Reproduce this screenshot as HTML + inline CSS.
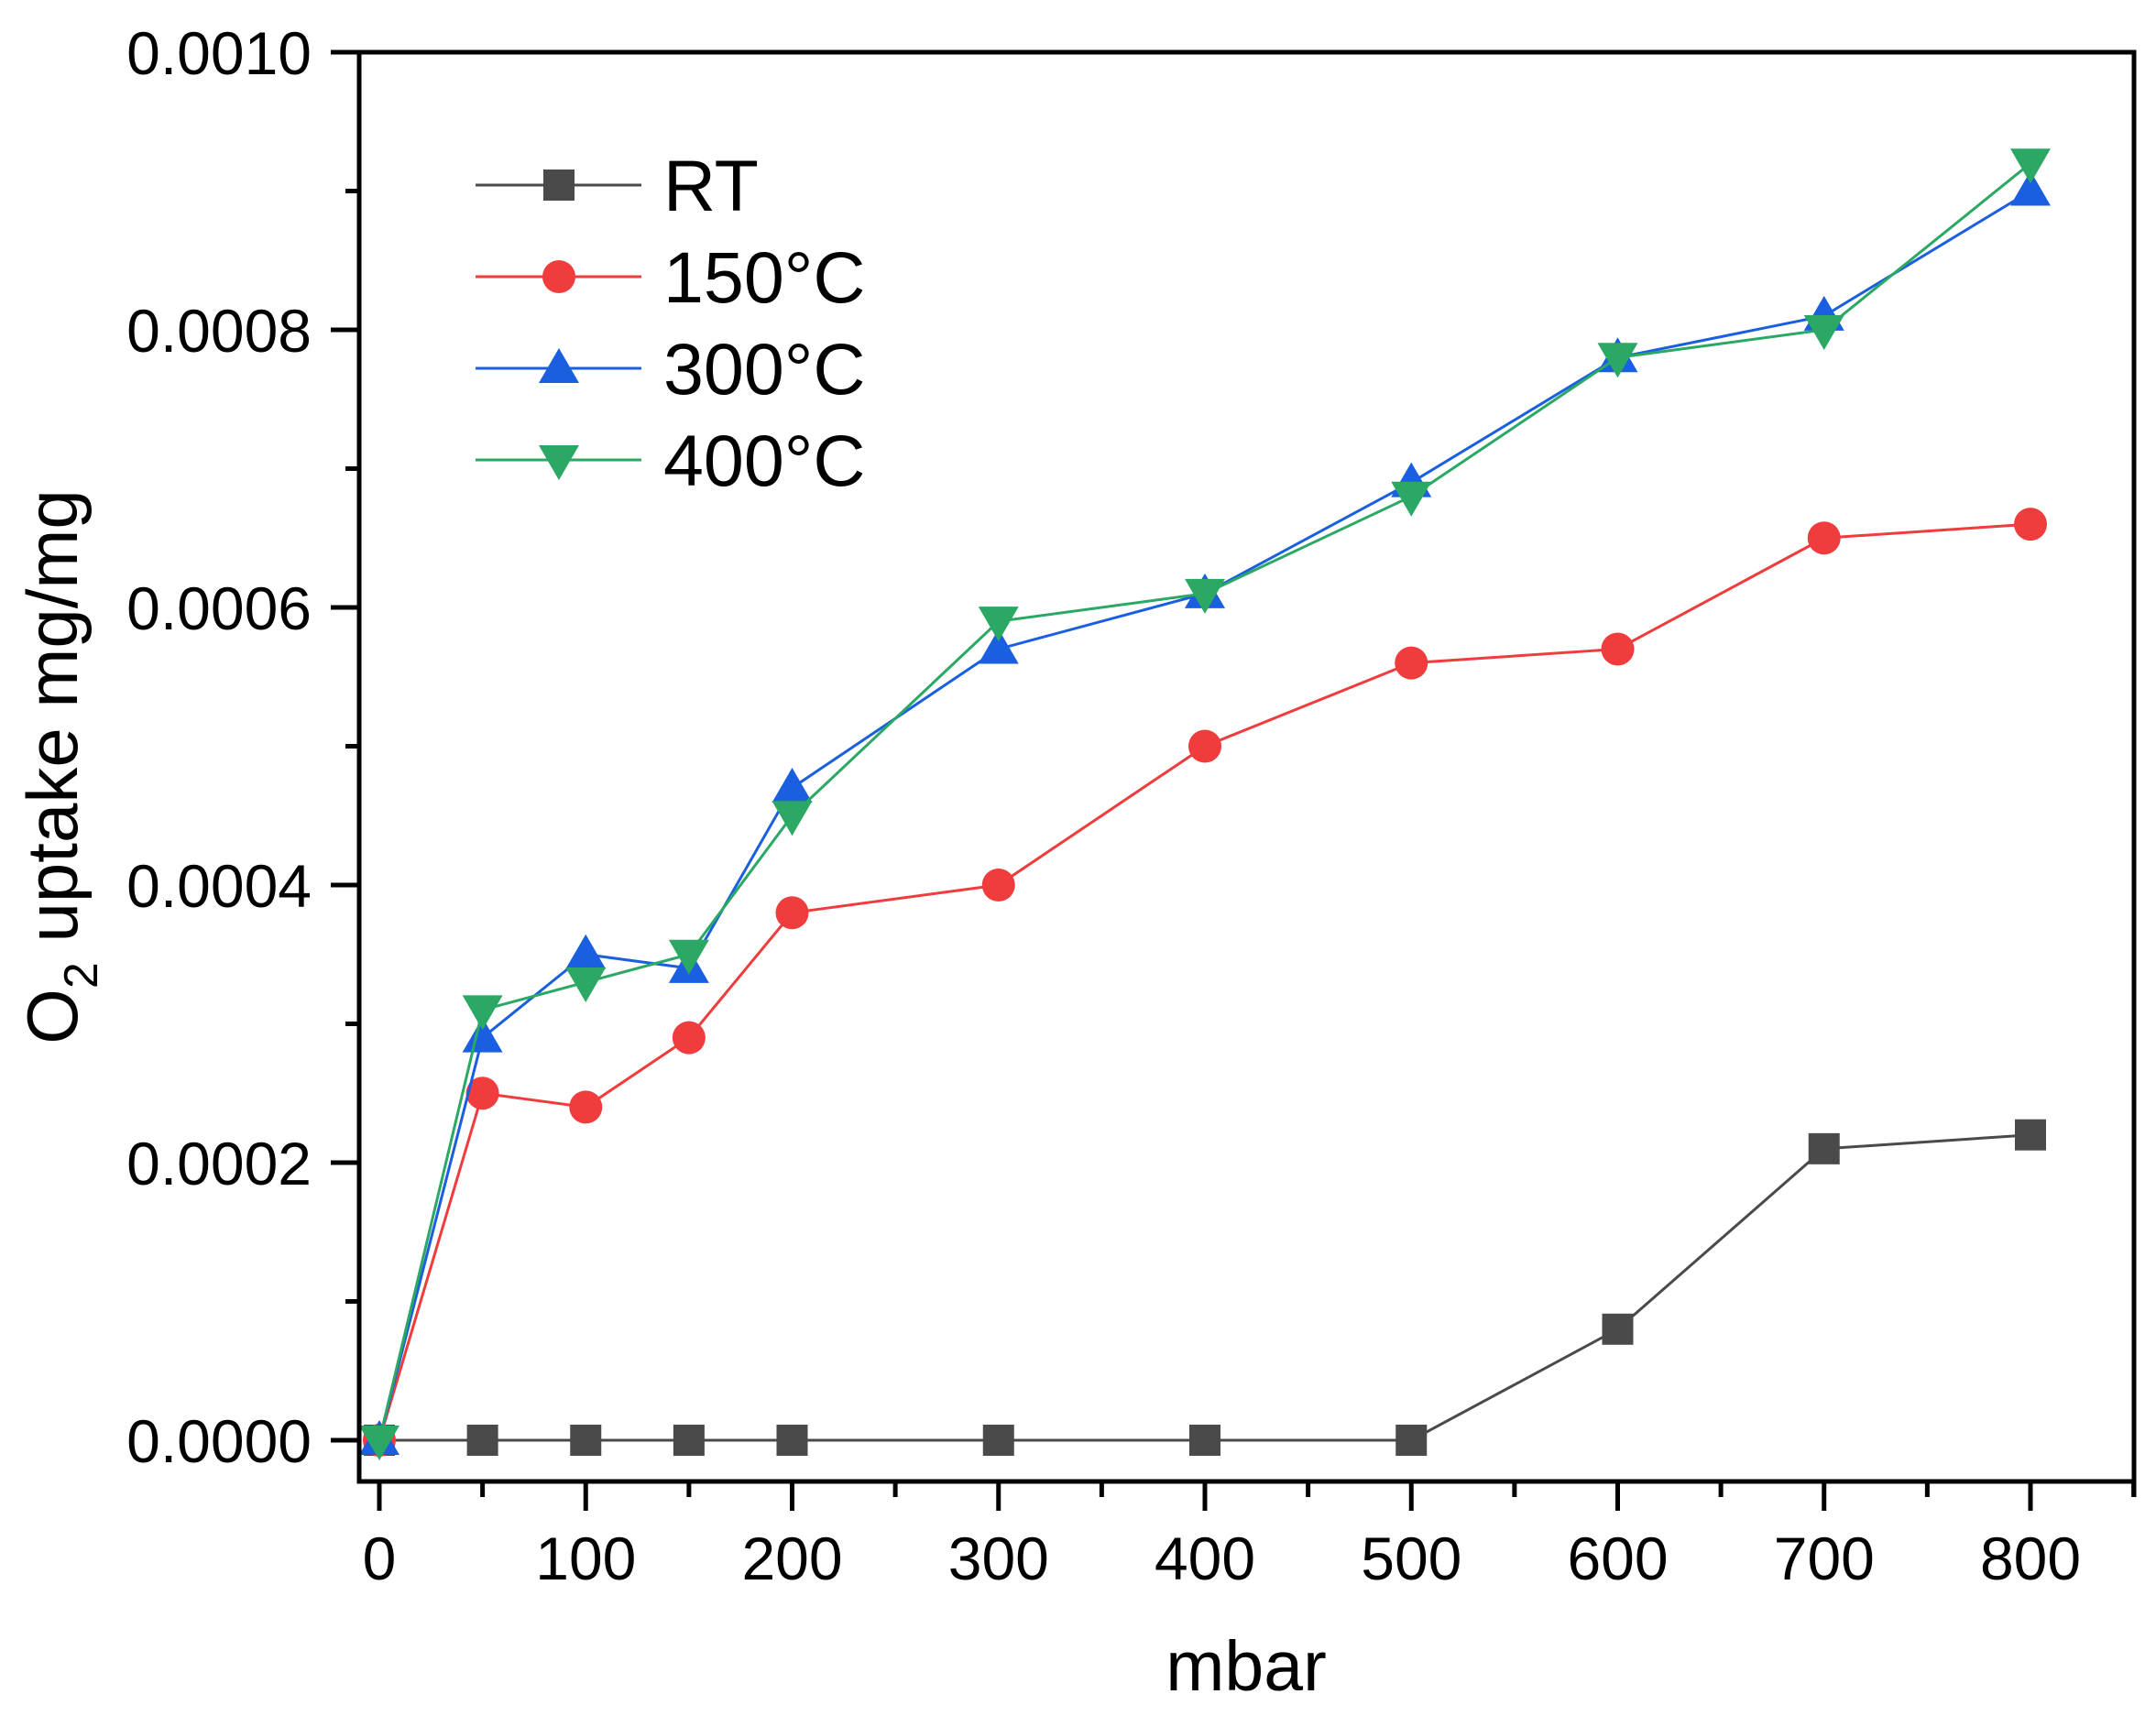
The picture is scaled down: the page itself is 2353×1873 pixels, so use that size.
<!DOCTYPE html>
<html><head><meta charset="utf-8"><style>
html,body{margin:0;padding:0;background:#fff;}
svg{display:block;font-family:"Liberation Sans",Arial,sans-serif;}
</style></head><body>
<svg id="s" width="2353" height="1873" viewBox="0 0 2353 1873" xmlns="http://www.w3.org/2000/svg">
<rect width="2353" height="1873" fill="#fff"/>
<g id="plot"></g>
<g id="axes" stroke="#000" stroke-width="5" fill="none">
<path d="M392 57 H2329 V1617 H392 Z"/>
</g>
<g id="ticks" stroke="#000" stroke-width="5"></g>
<g font-size="66" fill="#000" text-anchor="end">
<text x="340" y="81">0.0010</text>
<text x="340" y="384">0.0008</text>
<text x="340" y="687">0.0006</text>
<text x="340" y="990">0.0004</text>
<text x="340" y="1293">0.0002</text>
<text x="340" y="1596">0.0000</text>
</g>
<g font-size="66" fill="#000" text-anchor="middle">
<text x="414" y="1724">0</text>
<text x="639.3" y="1724">100</text>
<text x="864.5" y="1724">200</text>
<text x="1089.8" y="1724">300</text>
<text x="1315" y="1724">400</text>
<text x="1540.3" y="1724">500</text>
<text x="1765.5" y="1724">600</text>
<text x="1990.8" y="1724">700</text>
<text x="2216" y="1724">800</text>
</g>
<text x="1360" y="1845" font-size="77" text-anchor="middle">mbar</text>
<text transform="translate(84,837) rotate(-90)" font-size="78" text-anchor="middle">O<tspan font-size="52" dy="22">2</tspan><tspan dy="-22"> uptake mg/mg</tspan></text>
<g id="legend"></g>
<g font-size="79" fill="#000">
<text x="724" y="230">RT</text>
<text x="724" y="330">150°C</text>
<text x="724" y="430">300°C</text>
<text x="724" y="530">400°C</text>
</g>
</svg>
<script>
const NS="http://www.w3.org/2000/svg";
function el(p,t,a){const e=document.createElementNS(NS,t);for(const k in a)e.setAttribute(k,a[k]);p.appendChild(e);return e;}
const X=v=>414+v*2.2525, Y=u=>1572-u*151.5;
const xs=[0,50,100,150,200,300,400,500,600,700,800];
const series=[
 {c:"#4a4a4a",m:"sq",d:[0,0,0,0,0,0,0,0,0.8,2.1,2.2]},
 {c:"#f03c3c",m:"ci",d:[0,2.5,2.4,2.9,3.8,4,5,5.6,5.7,6.5,6.6]},
 {c:"#1a5fe0",m:"up",d:[0,2.9,3.5,3.4,4.7,5.7,6.1,6.9,7.8,8.1,9]},
 {c:"#2aa864",m:"dn",d:[0,3.1,3.3,3.5,4.5,5.9,6.1,6.8,7.8,8,9.2]}];
function marker(g,m,x,y,c){
 if(m=="sq")el(g,"rect",{x:x-17,y:y-17,width:34,height:34,fill:c});
 else if(m=="ci")el(g,"circle",{cx:x,cy:y,r:18,fill:c});
 else if(m=="up")el(g,"path",{d:`M${x} ${y-22}L${x+22} ${y+16}L${x-22} ${y+16}Z`,fill:c});
 else el(g,"path",{d:`M${x} ${y+22}L${x+22} ${y-16}L${x-22} ${y-16}Z`,fill:c});
}
const P=document.getElementById("plot");
series.forEach(s=>{
 el(P,"polyline",{points:xs.map((x,i)=>X(x)+","+Y(s.d[i])).join(" "),fill:"none",stroke:s.c,"stroke-width":3});
 xs.forEach((x,i)=>marker(P,s.m,X(x),Y(s.d[i]),s.c));
});
const T=document.getElementById("ticks");
for(let v=0;v<=850;v+=50){const x=X(v);if(x>2330)break;el(T,"line",{x1:x,y1:1617,x2:x,y2:v%100==0?1649:1634});}
el(T,"line",{x1:2329,y1:1617,x2:2329,y2:1634});
for(let u=0;u<=10;u++){const y=Y(u);el(T,"line",{x1:392,y1:y,x2:u%2==0?361:377,y2:y});}
const L=document.getElementById("legend");
series.forEach((s,i)=>{const y=202+i*100;el(L,"line",{x1:519,y1:y,x2:700,y2:y,stroke:s.c,"stroke-width":3});marker(L,s.m,610,y,s.c);});
</script>
</body></html>
